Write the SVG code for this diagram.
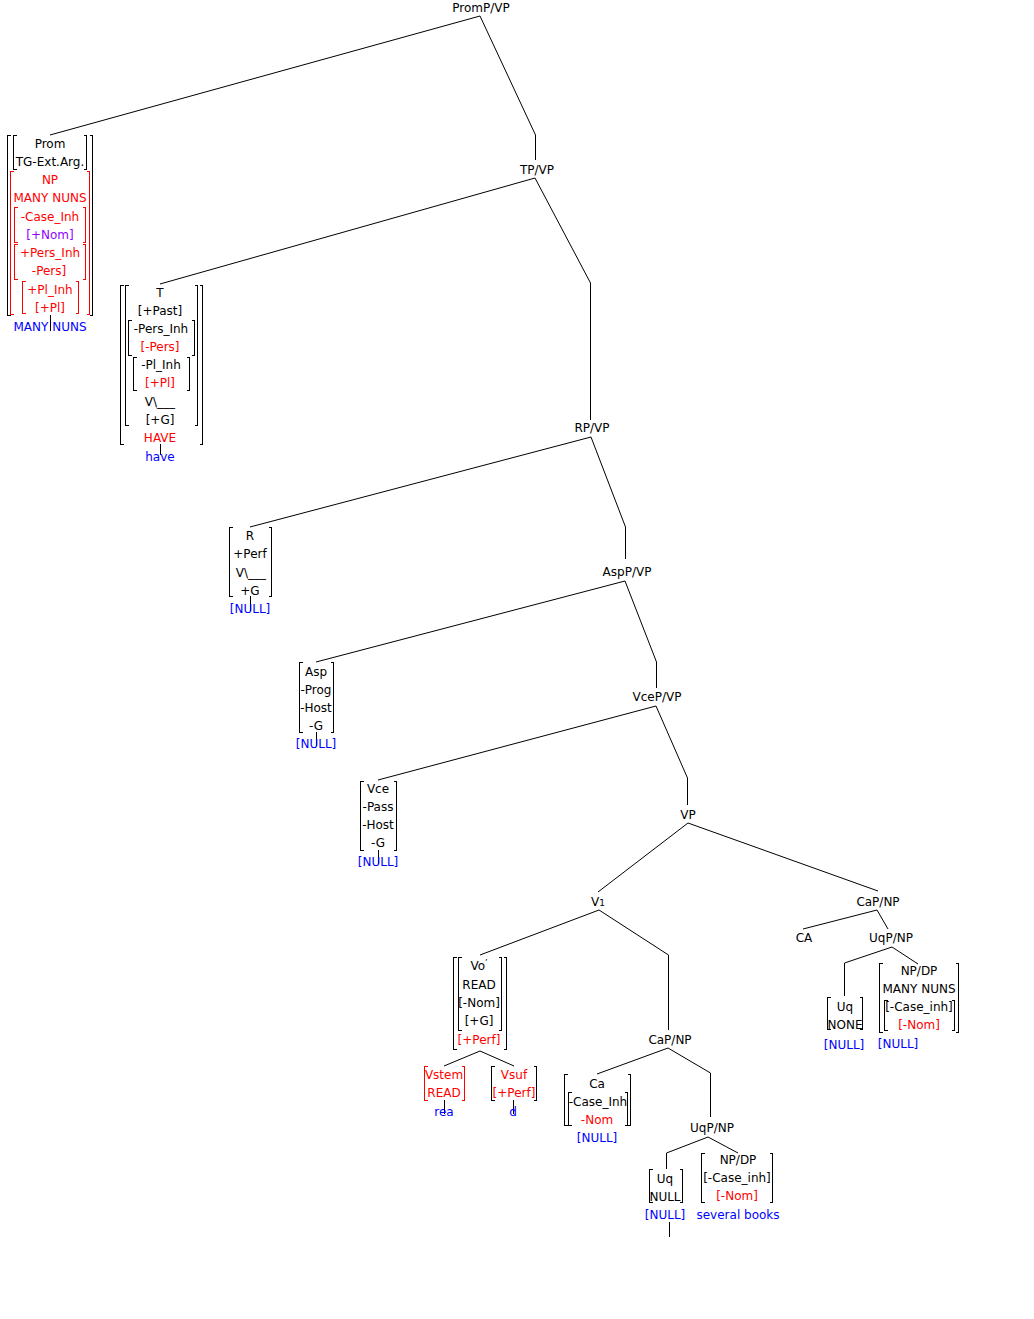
<svg xmlns="http://www.w3.org/2000/svg" width="1034" height="1319" viewBox="0 0 1034 1319">
<style>
text{font-family:"DejaVu Sans","Liberation Sans",sans-serif;font-size:12px;text-anchor:middle;fill:#000}
.r{fill:#ff0000}.b{fill:#0000ff}.p{fill:#9000ff}
.br{fill:none;stroke:#000;stroke-width:1;shape-rendering:crispEdges}
.brr{fill:none;stroke:#ff0000;stroke-width:1;shape-rendering:crispEdges}
.ln{fill:none;stroke:#000;stroke-width:1}
</style>
<rect width="1034" height="1319" fill="#fff"/>
<g id="connectors" class="ln">
<path d="M480 16 L50 135"/>
<path d="M480 16 L535.5 135 V160"/>
<path d="M535 178 L160 284"/>
<path d="M535 178 L590.5 283 V420"/>
<path d="M591 437 L250 527"/>
<path d="M591 437 L625.5 527 V559"/>
<path d="M625 581 L316 662"/>
<path d="M625 581 L656.5 662 V688"/>
<path d="M656 706 L378 780"/>
<path d="M656 706 L687.5 778 V805"/>
<path d="M688 823 L598 892"/>
<path d="M688 823 L878 891"/>
<path d="M599 910 L480 955"/>
<path d="M599 910 L668.5 955 V1030"/>
<path d="M480 1051 L444 1066"/>
<path d="M480 1051 L514 1066"/>
<path d="M668 1048 L597 1074"/>
<path d="M668 1048 L710.5 1073 V1117"/>
<path d="M708 1137 L666.5 1153 V1169"/>
<path d="M708 1137 L738 1153"/>
<path d="M877 910 L803 929"/>
<path d="M877 910 L888 929"/>
<path d="M892 947 L844.5 963 V996"/>
<path d="M892 947 L918 964"/>
<path d="M50.5 315 V331"/>
<path d="M160.5 444 V455"/>
<path d="M250.5 596 V611"/>
<path d="M316.5 732 V746"/>
<path d="M378.5 850 V864"/>
<path d="M444.5 1100 V1114"/>
<path d="M513.5 1100 V1114"/>
<path d="M669.5 1222 V1237"/>
</g>
<g id="PromP_VP"><text x="481" y="12">PromP/VP</text></g>
<g id="TP_VP"><text x="537" y="174">TP/VP</text></g>
<g id="RP_VP"><text x="592" y="432">RP/VP</text></g>
<g id="AspP_VP"><text x="627" y="576">AspP/VP</text></g>
<g id="VceP_VP"><text x="657" y="701">VceP/VP</text></g>
<g id="VP"><text x="688" y="819">VP</text></g>
<g id="V1"><text x="598" y="906">V<tspan font-size="9">1</tspan></text></g>
<g id="CaP_NP_right"><text x="878" y="906">CaP/NP</text></g>
<g id="CA"><text x="804" y="942">CA</text></g>
<g id="UqP_NP_right"><text x="891" y="942">UqP/NP</text></g>
<g id="CaP_NP_bottom"><text x="670" y="1044">CaP/NP</text></g>
<g id="UqP_NP_bottom"><text x="712" y="1132">UqP/NP</text></g>

<g id="Prom">
<path class="br" d="M10.5 135.5 H7.5 V315.5 H10.5 M89.5 135.5 H92.5 V315.5 H89.5"/>
<path class="br" d="M16.5 135.5 H13.5 V169.5 H16.5 M83.5 135.5 H86.5 V169.5 H83.5"/>
<path class="brr" d="M13.5 171.5 H10.5 V314.5 H13.5 M86.5 171.5 H89.5 V314.5 H86.5"/>
<path class="brr" d="M17.5 207.5 H14.5 V242.5 H17.5 M82.5 207.5 H85.5 V242.5 H82.5"/>
<path class="brr" d="M17.5 244.5 H14.5 V279.5 H17.5 M82.5 244.5 H85.5 V279.5 H82.5"/>
<path class="brr" d="M25.5 281.5 H22.5 V313.5 H25.5 M75.5 281.5 H78.5 V313.5 H75.5"/>
<text x="50" y="148">Prom</text>
<text x="50" y="166">TG-Ext.Arg.</text>
<text class="r" x="50" y="184">NP</text>
<text class="r" x="50" y="202">MANY NUNS</text>
<text class="r" x="50" y="221">-Case_Inh</text>
<text class="p" x="50" y="239">[+Nom]</text>
<text class="r" x="50" y="257">+Pers_Inh</text>
<text class="r" x="49" y="275">-Pers]</text>
<text class="r" x="50" y="294">+Pl_Inh</text>
<text class="r" x="50" y="312">[+Pl]</text>
<text class="b" x="50" y="331">MANY NUNS</text>
</g>

<g id="T">
<path class="br" d="M123.5 285.5 H120.5 V444.5 H123.5 M199.5 285.5 H202.5 V444.5 H199.5"/>
<path class="br" d="M128.5 285.5 H125.5 V425.5 H128.5 M194.5 285.5 H197.5 V425.5 H194.5"/>
<path class="br" d="M131.5 320.5 H128.5 V355.5 H131.5 M191.5 320.5 H194.5 V355.5 H191.5"/>
<path class="br" d="M136.5 357.5 H133.5 V390.5 H136.5 M186.5 357.5 H189.5 V390.5 H186.5"/>
<text x="160" y="297">T</text>
<text x="160" y="315">[+Past]</text>
<text x="161" y="333">-Pers_Inh</text>
<text class="r" x="160" y="351">[-Pers]</text>
<text x="161" y="369">-Pl_Inh</text>
<text class="r" x="160" y="387">[+Pl]</text>
<text x="160" y="406">V\___</text>
<text x="160" y="424">[+G]</text>
<text class="r" x="160" y="442">HAVE</text>
<text class="b" x="160" y="461">have</text>
</g>

<g id="R">
<path class="br" d="M232.5 527.5 H229.5 V596.5 H232.5 M268.5 527.5 H271.5 V596.5 H268.5"/>
<text x="250" y="540">R</text>
<text x="250" y="558">+Perf</text>
<text x="251" y="577">V\___</text>
<text x="250" y="595">+G</text>
<text class="b" x="250" y="613">[NULL]</text>
</g>

<g id="Asp">
<path class="br" d="M302.5 662.5 H299.5 V732.5 H302.5 M330.5 662.5 H333.5 V732.5 H330.5"/>
<text x="316" y="676">Asp</text>
<text x="316" y="694">-Prog</text>
<text x="316" y="712">-Host</text>
<text x="316" y="730">-G</text>
<text class="b" x="316" y="748">[NULL]</text>
</g>

<g id="Vce">
<path class="br" d="M363.5 781.5 H360.5 V850.5 H363.5 M393.5 781.5 H396.5 V850.5 H393.5"/>
<text x="378" y="793">Vce</text>
<text x="378" y="811">-Pass</text>
<text x="378" y="829">-Host</text>
<text x="378" y="847">-G</text>
<text class="b" x="378" y="866">[NULL]</text>
</g>

<g id="Vo">
<path class="br" d="M456.5 957.5 H453.5 V1049.5 H456.5 M503.5 957.5 H506.5 V1049.5 H503.5"/>
<path class="br" d="M461.5 957.5 H458.5 V1030.5 H461.5 M498.5 957.5 H501.5 V1030.5 H498.5"/>
<text x="479" y="970">Vo<tspan font-size="8" dy="-4">’</tspan></text>
<text x="479" y="989">READ</text>
<text x="479" y="1007">[-Nom]</text>
<text x="479" y="1025">[+G]</text>
<text class="r" x="479" y="1044">[+Perf]</text>
</g>

<g id="Vstem">
<path class="brr" d="M427.5 1066.5 H424.5 V1100.5 H427.5 M461.5 1066.5 H464.5 V1100.5 H461.5"/>
<text class="r" x="444" y="1079">Vstem</text>
<text class="r" x="444" y="1097">READ</text>
<text class="b" x="444" y="1116">rea</text>
</g>

<g id="Vsuf">
<path class="br" d="M494.5 1066.5 H491.5 V1100.5 H494.5 M533.5 1066.5 H536.5 V1100.5 H533.5"/>
<text class="r" x="514" y="1079">Vsuf</text>
<text class="r" x="514" y="1097">[+Perf]</text>
<text class="b" x="513" y="1116">d</text>
</g>

<g id="Ca">
<path class="br" d="M567.5 1074.5 H564.5 V1125.5 H567.5 M627.5 1074.5 H630.5 V1125.5 H627.5"/>
<path class="br" d="M571.5 1092.5 H568.5 V1125.5 H571.5 M624.5 1092.5 H627.5 V1125.5 H624.5"/>
<text x="597" y="1088">Ca</text>
<text x="598" y="1106">-Case_Inh</text>
<text class="r" x="597" y="1124">-Nom</text>
<text class="b" x="597" y="1142">[NULL]</text>
</g>

<g id="Uq_bottom">
<path class="br" d="M652.5 1169.5 H649.5 V1202.5 H652.5 M679.5 1169.5 H682.5 V1202.5 H679.5"/>
<text x="665" y="1183">Uq</text>
<text x="665" y="1201">NULL</text>
<text class="b" x="665" y="1219">[NULL]</text>
</g>

<g id="NP_DP_bottom">
<path class="br" d="M704.5 1153.5 H701.5 V1202.5 H704.5 M769.5 1153.5 H772.5 V1202.5 H769.5"/>
<text x="738" y="1164">NP/DP</text>
<text x="737" y="1182">[-Case_inh]</text>
<text class="r" x="737" y="1200">[-Nom]</text>
<text class="b" x="738" y="1219">several books</text>
</g>

<g id="Uq_right">
<path class="br" d="M830.5 997.5 H827.5 V1029.5 H830.5 M859.5 997.5 H862.5 V1029.5 H859.5"/>
<text x="845" y="1011">Uq</text>
<text x="845" y="1029">NONE</text>
<text class="b" x="844" y="1049">[NULL]</text>
</g>

<g id="NP_DP_right">
<path class="br" d="M882.5 963.5 H879.5 V1032.5 H882.5 M955.5 963.5 H958.5 V1032.5 H955.5"/>
<path class="br" d="M887.5 1000.5 H884.5 V1030.5 H887.5 M951.5 1000.5 H954.5 V1030.5 H951.5"/>
<text x="919" y="975">NP/DP</text>
<text x="919" y="993">MANY NUNS</text>
<text x="919" y="1011">[-Case_inh]</text>
<text class="r" x="919" y="1029">[-Nom]</text>
<text class="b" x="898" y="1048">[NULL]</text>
</g>
</svg>
